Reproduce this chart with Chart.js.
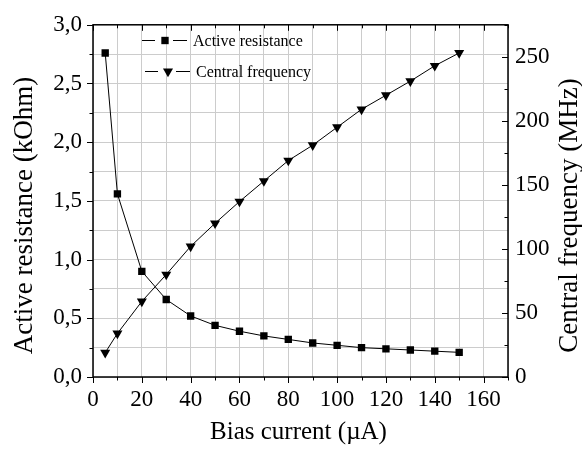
<!DOCTYPE html>
<html>
<head>
<meta charset="utf-8">
<script src="https://cdn.jsdelivr.net/npm/chart.js@4.4.1/dist/chart.umd.min.js"></script>
<style>
  html, body { margin: 0; padding: 0; background: #fff; }
  #chart { display: block; }
</style>
</head>
<body>
<canvas id="chart" width="582" height="455"></canvas>
<script>
// Values
const biasCurrent = [5, 10, 20, 30, 40, 50, 60, 70, 80, 90, 100, 110, 120, 130, 140, 150];
const activeResistance = [2.76, 1.56, 0.9, 0.66, 0.52, 0.44, 0.39, 0.35, 0.32, 0.29, 0.27, 0.25, 0.24, 0.23, 0.22, 0.21];
const centralFrequency = [19, 34, 59, 80, 102, 120, 137, 153, 169, 181, 195, 209, 220, 231, 243, 253];

// Tick labels
const xTickLabels = [0, 20, 40, 60, 80, 100, 120, 140, 160];
const leftTickLabels = ["0,0", "0,5", "1,0", "1,5", "2,0", "2,5", "3,0"];
const rightTickLabels = [0, 50, 100, 150, 200, 250];

const xTitle = "Bias current (\u00B5A)";
const leftTitle = "Active resistance (kOhm)";
const rightTitle = "Central frequency (MHz)";

const SERIF = '"Liberation Serif", "Times New Roman", serif';

// Origin-style frame: box, tick marks, axis titles, legend
const originFrame = {
  id: "originFrame",
  afterDraw(c) {
    const { ctx, chartArea: a, scales } = c;
    ctx.save();
    ctx.strokeStyle = "#000";
    ctx.fillStyle = "#000";
    ctx.lineWidth = 1;

    const mark = (x1, y1, x2, y2) => {
      ctx.beginPath();
      ctx.moveTo(x1, y1);
      ctx.lineTo(x2, y2);
      ctx.stroke();
    };
    const crisp = (v) => Math.round(v) + 0.5;

    scales.x.ticks.forEach((t) => {
      const px = crisp(scales.x.getPixelForValue(t.value));
      const len = t.value % 20 === 0 ? 6 : 3.5;
      mark(px, a.bottom, px, a.bottom + len);
      mark(px, a.top, px, a.top + len);
    });
    scales.y.ticks.forEach((t) => {
      const py = crisp(scales.y.getPixelForValue(t.value));
      const len = t.value % 0.5 === 0 ? 6 : 3.5;
      mark(a.left - len, py, a.left, py);
    });
    scales.y1.ticks.forEach((t) => {
      const py = crisp(scales.y1.getPixelForValue(t.value));
      const len = t.value % 50 === 0 ? 6 : 3.5;
      mark(a.right - len, py, a.right, py);
    });

    ctx.lineWidth = 1.5;
    ctx.strokeRect(a.left, a.top, a.right - a.left, a.bottom - a.top);

    // axis titles
    ctx.textAlign = "center";
    ctx.textBaseline = "alphabetic";
    ctx.font = "25px " + SERIF;
    ctx.fillText(xTitle, (a.left + a.right) / 2 - 2, 439);

    ctx.font = "27px " + SERIF;
    ctx.save();
    ctx.translate(32, 215.5);
    ctx.rotate(-Math.PI / 2);
    ctx.fillText(leftTitle, 0, 0);
    ctx.restore();

    ctx.save();
    ctx.translate(577, 215.5);
    ctx.rotate(-Math.PI / 2);
    ctx.fillText(rightTitle, 0, 0);
    ctx.restore();

    // legend: dash - marker - dash, then label
    ctx.lineWidth = 1;
    ctx.font = "16px " + SERIF;
    ctx.textAlign = "left";
    ctx.textBaseline = "middle";
    const rows = [
      { ds: 0, x: 142, y: 40 },
      { ds: 1, x: 145, y: 71 },
    ];
    rows.forEach((r) => {
      const ds = c.data.datasets[r.ds];
      const ly = crisp(r.y);
      mark(r.x, ly, r.x + 13, ly);
      mark(r.x + 31, ly, r.x + 45, ly);
      const cx = r.x + 23;
      const y = r.y + 0.5;
      ctx.beginPath();
      if (ds.pointStyle === "rect") {
        const s = ds.pointRadius * Math.SQRT1_2;
        ctx.rect(cx - s, y - s, 2 * s, 2 * s);
      } else {
        const rr = ds.pointRadius;
        const h = rr * Math.sin(Math.PI / 3);
        ctx.moveTo(cx, y + rr);
        ctx.lineTo(cx - h, y - rr / 2);
        ctx.lineTo(cx + h, y - rr / 2);
        ctx.closePath();
      }
      ctx.fill();
      ctx.fillText(ds.label, r.x + 51, y + 1);
    });

    ctx.restore();
  },
};

const gridColor = "#cccccc";
const tickFont = { family: SERIF, size: 23 };

new Chart(document.getElementById("chart"), {
  type: "line",
  data: {
    datasets: [
      {
        label: "Active resistance",
        data: biasCurrent.map((x, i) => ({ x, y: activeResistance[i] })),
        yAxisID: "y",
        borderColor: "#000",
        backgroundColor: "#000",
        borderWidth: 1,
        pointStyle: "rect",
        pointRadius: 5.2,
        pointBorderWidth: 0,
        tension: 0,
      },
      {
        label: "Central frequency",
        data: biasCurrent.map((x, i) => ({ x, y: centralFrequency[i] })),
        yAxisID: "y1",
        borderColor: "#000",
        backgroundColor: "#000",
        borderWidth: 1,
        pointStyle: "triangle",
        pointRotation: 180,
        pointRadius: 5.8,
        pointBorderWidth: 0,
        tension: 0,
      },
    ],
  },
  options: {
    responsive: false,
    animation: false,
    events: [],
    layout: { padding: { top: 23, left: 0, right: 0, bottom: 0 } },
    plugins: {
      legend: { display: false },
      tooltip: { enabled: false },
    },
    scales: {
      x: {
        type: "linear",
        min: 0,
        max: 170,
        afterFit: (s) => { s.height = 78; },
        border: { display: false },
        grid: { color: gridColor, drawTicks: false },
        ticks: {
          stepSize: 10,
          autoSkip: false,
          maxRotation: 0,
          padding: 9,
          color: "#000",
          font: tickFont,
          callback: (v) => (xTickLabels.includes(v) ? String(v) : ""),
        },
      },
      y: {
        position: "left",
        min: 0,
        max: 3,
        afterFit: (s) => { s.width = 93; },
        border: { display: false },
        grid: { color: gridColor, drawTicks: false },
        ticks: {
          stepSize: 0.25,
          autoSkip: false,
          padding: 11,
          color: "#000",
          font: tickFont,
          callback: (v) => {
            const s = Number(v).toFixed(1).replace(".", ",");
            return v % 0.5 === 0 && leftTickLabels.includes(s) ? s : "";
          },
        },
      },
      y1: {
        position: "right",
        min: 0,
        max: 275,
        afterFit: (s) => { s.width = 74; },
        border: { display: false },
        grid: { display: false, drawTicks: false },
        ticks: {
          stepSize: 25,
          autoSkip: false,
          padding: 7,
          color: "#000",
          font: tickFont,
          callback: (v) => (rightTickLabels.includes(v) ? String(v) : ""),
        },
      },
    },
  },
  plugins: [originFrame],
});
</script>
</body>
</html>
